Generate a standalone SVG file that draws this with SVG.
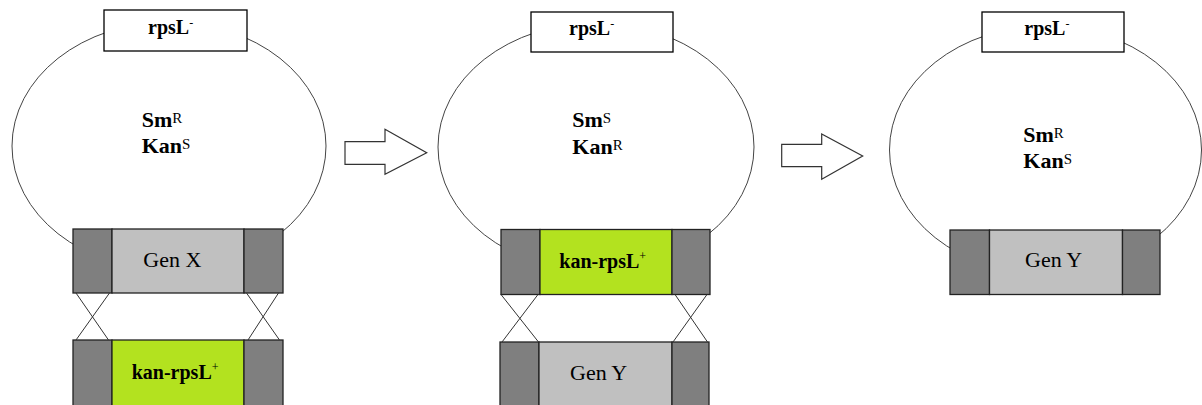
<svg xmlns="http://www.w3.org/2000/svg" width="1202" height="405" viewBox="0 0 1202 405">
  <style>
    .loop { fill: none; stroke: #444; stroke-width: 1; }
    .marker-box { fill: #fff; stroke: #000; stroke-width: 1.3; }
    .flank { fill: #7f7f7f; stroke: #222; stroke-width: 1.3; }
    .gene { fill: #c0c0c0; stroke: #222; stroke-width: 1.3; }
    .cassette { fill: #b3e21f; stroke: #222; stroke-width: 1.3; }
    .cross { stroke: #333; stroke-width: 1; fill: none; }
    .step { fill: #fff; stroke: #333; stroke-width: 1.2; }
    .lbl { font-family: "Liberation Serif", "Times New Roman", serif; fill: #000; }
    .b { font-weight: bold; }
    .big { font-size: 22px; }
    .mid { font-size: 20px; }
    .sup { font-size: 15px; font-weight: normal; }
    .sm { font-size: 12px; font-weight: normal; }
  </style>

  <!-- Panel 1: chromosome with gene X, incoming kan-rpsL+ cassette -->
  <g id="panel1">
    <ellipse class="loop" cx="169" cy="146" rx="157" ry="124"/>
    <g id="p1-rpsL">
      <rect class="marker-box" x="104" y="10" width="143" height="41"/>
      <text class="lbl b mid" x="148" y="34">rpsL<tspan class="sm" dy="-7">-</tspan></text>
    </g>
    <g id="p1-phenotype">
      <text class="lbl b big" x="141.7" y="126.7">Sm<tspan class="sup" dy="-4">R</tspan></text>
      <text class="lbl b big" x="141.7" y="153.3">Kan<tspan class="sup" dy="-4">S</tspan></text>
    </g>
    <g id="p1-genX">
      <rect class="flank" x="73" y="229" width="39" height="64"/>
      <rect class="gene" x="112" y="229" width="132" height="64"/>
      <rect class="flank" x="244" y="229" width="39" height="64"/>
      <text class="lbl big" x="143.3" y="266.7">Gen X</text>
    </g>
    <g id="p1-cassette">
      <rect class="flank" x="73" y="340" width="39" height="70"/>
      <rect class="cassette" x="112" y="340" width="132" height="70"/>
      <rect class="flank" x="244" y="340" width="39" height="70"/>
      <text class="lbl b mid" x="131.7" y="379">kan-rpsL<tspan class="sm" dy="-8">+</tspan></text>
    </g>
  </g>

  <!-- Panel 2: chromosome carrying kan-rpsL+, incoming gene Y -->
  <g id="panel2">
    <ellipse class="loop" cx="596" cy="147" rx="158" ry="124"/>
    <g id="p2-rpsL">
      <rect class="marker-box" x="531" y="12" width="142" height="40"/>
      <text class="lbl b mid" x="569" y="35">rpsL<tspan class="sm" dy="-7">-</tspan></text>
    </g>
    <g id="p2-phenotype">
      <text class="lbl b big" x="572.3" y="127">Sm<tspan class="sup" dy="-4">S</tspan></text>
      <text class="lbl b big" x="572.3" y="154">Kan<tspan class="sup" dy="-4">R</tspan></text>
    </g>
    <g id="p2-cassette">
      <rect class="flank" x="501" y="229.5" width="39" height="65"/>
      <rect class="cassette" x="540" y="229.5" width="132" height="65"/>
      <rect class="flank" x="672" y="229.5" width="38" height="65"/>
      <text class="lbl b mid" x="559.3" y="268.3">kan-rpsL<tspan class="sm" dy="-8">+</tspan></text>
    </g>
    <g id="p2-genY">
      <rect class="flank" x="500" y="342" width="39" height="70"/>
      <rect class="gene" x="539" y="342" width="133" height="70"/>
      <rect class="flank" x="672" y="342" width="37" height="70"/>
      <text class="lbl big" x="570" y="380">Gen Y</text>
    </g>
  </g>

  <!-- Panel 3: chromosome with gene Y -->
  <g id="panel3">
    <ellipse class="loop" cx="1045.5" cy="150" rx="156" ry="124"/>
    <g id="p3-rpsL">
      <rect class="marker-box" x="982" y="12" width="142" height="40"/>
      <text class="lbl b mid" x="1024.3" y="35">rpsL<tspan class="sm" dy="-7">-</tspan></text>
    </g>
    <g id="p3-phenotype">
      <text class="lbl b big" x="1023.3" y="141.7">Sm<tspan class="sup" dy="-4">R</tspan></text>
      <text class="lbl b big" x="1023.3" y="168.3">Kan<tspan class="sup" dy="-4">S</tspan></text>
    </g>
    <g id="p3-genY">
      <rect class="flank" x="950" y="230" width="39.5" height="64.5"/>
      <rect class="gene" x="989.5" y="230" width="133" height="64.5"/>
      <rect class="flank" x="1122.5" y="230" width="37.5" height="64.5"/>
      <text class="lbl big" x="1025" y="266.7">Gen Y</text>
    </g>
  </g>

  <!-- Connectors: crossover lines and step arrows -->
  <g id="connectors">
    <path class="cross" d="M76 293 L108.5 340 M109.5 293 L76 340 M246.5 293 L279.5 340 M278.5 293 L248 340"/>
    <path class="cross" d="M501 294.5 L538.5 342 M538 294.5 L502 342 M675 294.5 L707.5 342 M707 294.5 L673 342"/>
    <polygon class="step" points="345,141.7 385,141.7 385,129.3 426.7,152.7 385,174.3 385,164.3 345,164.3"/>
    <polygon class="step" points="781.7,144.3 821.7,144.3 821.7,134 862.7,156 821.7,179.3 821.7,166.7 781.7,166.7"/>
  </g>
</svg>
